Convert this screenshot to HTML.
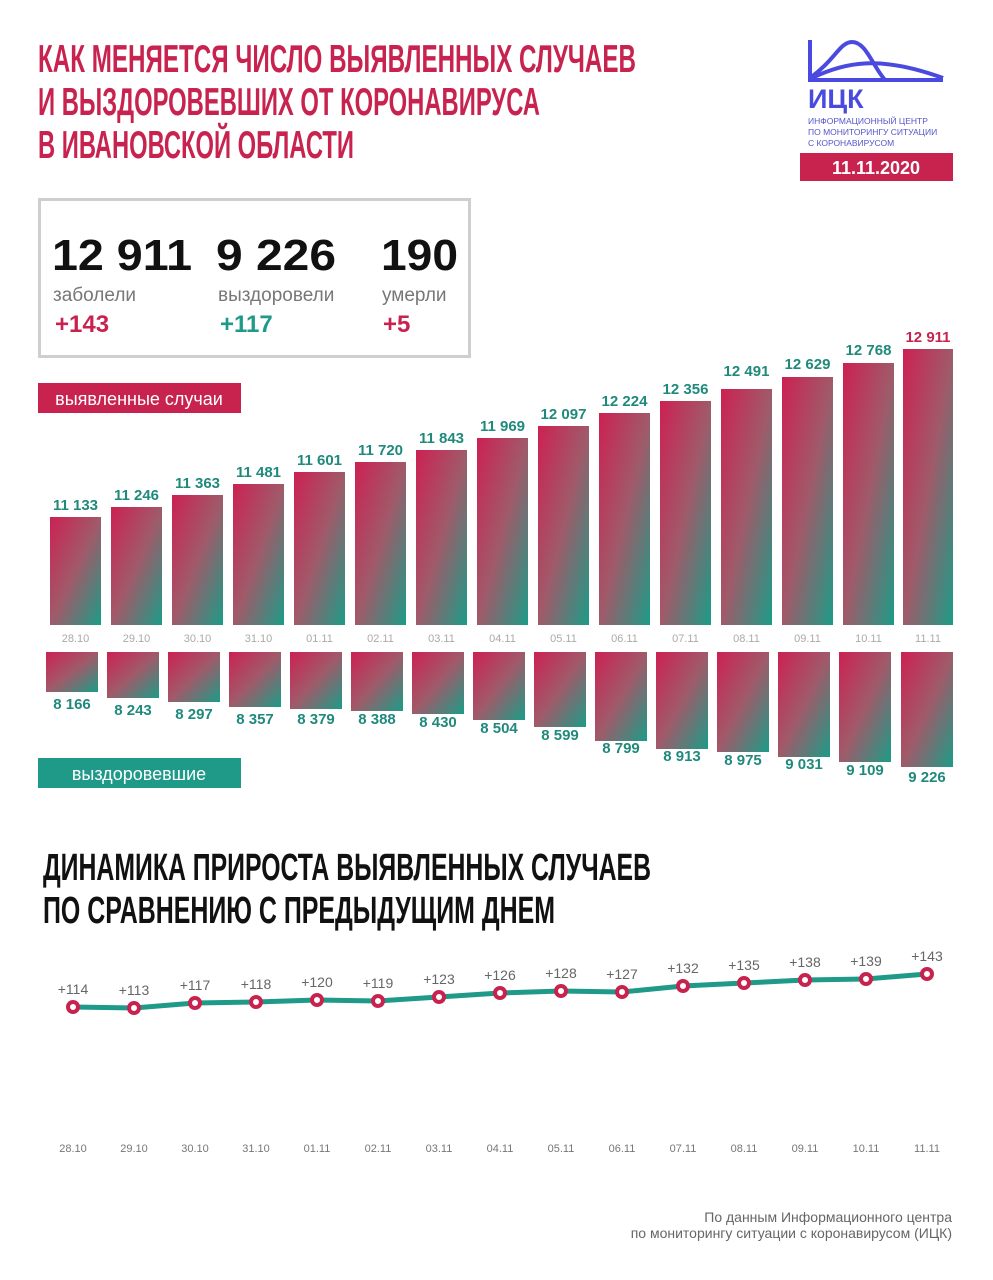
<!DOCTYPE html>
<html><head><meta charset="utf-8"><style>
body{margin:0;background:#fff;}
svg{display:block;font-family:"Liberation Sans",sans-serif;}
</style></head><body>
<svg width="993" height="1280" viewBox="0 0 993 1280" xmlns="http://www.w3.org/2000/svg">
<defs>
<linearGradient id="g" x1="0" y1="0" x2="1" y2="1">
<stop offset="0" stop-color="#cc2152"/><stop offset="0.5" stop-color="#a05a6a"/><stop offset="1" stop-color="#1b9c87"/>
</linearGradient>
</defs>
<rect width="993" height="1280" fill="#fff"/>
<g font-weight="bold" fill="#c8234f" font-size="39">
<text x="38" y="72" textLength="598" lengthAdjust="spacingAndGlyphs">КАК МЕНЯЕТСЯ ЧИСЛО ВЫЯВЛЕННЫХ СЛУЧАЕВ</text>
<text x="38" y="115" textLength="502" lengthAdjust="spacingAndGlyphs">И ВЫЗДОРОВЕВШИХ ОТ КОРОНАВИРУСА</text>
<text x="38" y="158" textLength="316" lengthAdjust="spacingAndGlyphs">В ИВАНОВСКОЙ ОБЛАСТИ</text>
</g>
<!-- logo -->
<g fill="none" stroke="#4a4ae0" stroke-width="4">
<path d="M810 40 V80 H943"/>
<path d="M810 78 C835 60 840 42 852 42 C866 42 872 65 885 80"/>
<path d="M812 78 C845 62 880 55 943 78"/>
</g>
<text x="808" y="108" font-size="27" font-weight="bold" fill="#4a4ae0">ИЦК</text>
<g font-size="8.5" fill="#5555cc">
<text x="808" y="124">ИНФОРМАЦИОННЫЙ ЦЕНТР</text>
<text x="808" y="135">ПО МОНИТОРИНГУ СИТУАЦИИ</text>
<text x="808" y="146">С КОРОНАВИРУСОМ</text>
</g>
<rect x="800" y="153" width="153" height="28" fill="#c8234f"/>
<text x="876" y="174" font-size="18" font-weight="bold" fill="#fff" text-anchor="middle">11.11.2020</text>
<!-- stats box -->
<rect x="39.5" y="199.5" width="430" height="157" fill="none" stroke="#cfcfcf" stroke-width="3"/>
<g font-size="44" font-weight="bold" fill="#111">
<text x="52" y="270" textLength="140" lengthAdjust="spacingAndGlyphs">12 911</text>
<text x="216" y="270" textLength="120" lengthAdjust="spacingAndGlyphs">9 226</text>
<text x="381" y="270" textLength="77" lengthAdjust="spacingAndGlyphs">190</text>
</g>
<g font-size="19" fill="#777">
<text x="53" y="301">заболели</text><text x="218" y="301">выздоровели</text><text x="382" y="301">умерли</text>
</g>
<g font-size="24" font-weight="bold">
<text x="55" y="332" fill="#c8234f">+143</text><text x="220" y="332" fill="#1f9a88">+117</text><text x="383" y="332" fill="#c8234f">+5</text>
</g>
<rect x="38" y="383" width="203" height="30" fill="#c8234f"/>
<text x="139" y="405" font-size="18" fill="#fff" text-anchor="middle">выявленные случаи</text>
<rect x="38" y="758" width="203" height="30" fill="#1f9a88"/>
<text x="139" y="780" font-size="18" fill="#fff" text-anchor="middle">выздоровевшие</text>
<g font-weight="bold" fill="#111" font-size="38">
<text x="43" y="880" textLength="608" lengthAdjust="spacingAndGlyphs">ДИНАМИКА ПРИРОСТА ВЫЯВЛЕННЫХ СЛУЧАЕВ</text>
<text x="43" y="923" textLength="512" lengthAdjust="spacingAndGlyphs">ПО СРАВНЕНИЮ С ПРЕДЫДУЩИМ ДНЕМ</text>
</g>
<g font-size="14" fill="#666" text-anchor="end">
<text x="952" y="1222">По данным Информационного центра</text>
<text x="952" y="1238">по мониторингу ситуации с коронавирусом (ИЦК)</text>
</g>
<g text-anchor="middle">
<rect x="50" y="517" width="51" height="108" fill="url(#g)"/><text x="75.5" y="510" font-size="15" font-weight="bold" fill="#1f8a7c">11 133</text><text x="75.5" y="642" font-size="11" fill="#aaa">28.10</text><rect x="46" y="652" width="52" height="40" fill="url(#g)"/><text x="72" y="709" font-size="15" font-weight="bold" fill="#1f8a7c">8 166</text>
<rect x="111" y="507" width="51" height="118" fill="url(#g)"/><text x="136.5" y="500" font-size="15" font-weight="bold" fill="#1f8a7c">11 246</text><text x="136.5" y="642" font-size="11" fill="#aaa">29.10</text><rect x="107" y="652" width="52" height="46" fill="url(#g)"/><text x="133" y="715" font-size="15" font-weight="bold" fill="#1f8a7c">8 243</text>
<rect x="172" y="495" width="51" height="130" fill="url(#g)"/><text x="197.5" y="488" font-size="15" font-weight="bold" fill="#1f8a7c">11 363</text><text x="197.5" y="642" font-size="11" fill="#aaa">30.10</text><rect x="168" y="652" width="52" height="50" fill="url(#g)"/><text x="194" y="719" font-size="15" font-weight="bold" fill="#1f8a7c">8 297</text>
<rect x="233" y="484" width="51" height="141" fill="url(#g)"/><text x="258.5" y="477" font-size="15" font-weight="bold" fill="#1f8a7c">11 481</text><text x="258.5" y="642" font-size="11" fill="#aaa">31.10</text><rect x="229" y="652" width="52" height="55" fill="url(#g)"/><text x="255" y="724" font-size="15" font-weight="bold" fill="#1f8a7c">8 357</text>
<rect x="294" y="472" width="51" height="153" fill="url(#g)"/><text x="319.5" y="465" font-size="15" font-weight="bold" fill="#1f8a7c">11 601</text><text x="319.5" y="642" font-size="11" fill="#aaa">01.11</text><rect x="290" y="652" width="52" height="57" fill="url(#g)"/><text x="316" y="724" font-size="15" font-weight="bold" fill="#1f8a7c">8 379</text>
<rect x="355" y="462" width="51" height="163" fill="url(#g)"/><text x="380.5" y="455" font-size="15" font-weight="bold" fill="#1f8a7c">11 720</text><text x="380.5" y="642" font-size="11" fill="#aaa">02.11</text><rect x="351" y="652" width="52" height="59" fill="url(#g)"/><text x="377" y="724" font-size="15" font-weight="bold" fill="#1f8a7c">8 388</text>
<rect x="416" y="450" width="51" height="175" fill="url(#g)"/><text x="441.5" y="443" font-size="15" font-weight="bold" fill="#1f8a7c">11 843</text><text x="441.5" y="642" font-size="11" fill="#aaa">03.11</text><rect x="412" y="652" width="52" height="62" fill="url(#g)"/><text x="438" y="727" font-size="15" font-weight="bold" fill="#1f8a7c">8 430</text>
<rect x="477" y="438" width="51" height="187" fill="url(#g)"/><text x="502.5" y="431" font-size="15" font-weight="bold" fill="#1f8a7c">11 969</text><text x="502.5" y="642" font-size="11" fill="#aaa">04.11</text><rect x="473" y="652" width="52" height="68" fill="url(#g)"/><text x="499" y="733" font-size="15" font-weight="bold" fill="#1f8a7c">8 504</text>
<rect x="538" y="426" width="51" height="199" fill="url(#g)"/><text x="563.5" y="419" font-size="15" font-weight="bold" fill="#1f8a7c">12 097</text><text x="563.5" y="642" font-size="11" fill="#aaa">05.11</text><rect x="534" y="652" width="52" height="75" fill="url(#g)"/><text x="560" y="740" font-size="15" font-weight="bold" fill="#1f8a7c">8 599</text>
<rect x="599" y="413" width="51" height="212" fill="url(#g)"/><text x="624.5" y="406" font-size="15" font-weight="bold" fill="#1f8a7c">12 224</text><text x="624.5" y="642" font-size="11" fill="#aaa">06.11</text><rect x="595" y="652" width="52" height="89" fill="url(#g)"/><text x="621" y="753" font-size="15" font-weight="bold" fill="#1f8a7c">8 799</text>
<rect x="660" y="401" width="51" height="224" fill="url(#g)"/><text x="685.5" y="394" font-size="15" font-weight="bold" fill="#1f8a7c">12 356</text><text x="685.5" y="642" font-size="11" fill="#aaa">07.11</text><rect x="656" y="652" width="52" height="97" fill="url(#g)"/><text x="682" y="761" font-size="15" font-weight="bold" fill="#1f8a7c">8 913</text>
<rect x="721" y="389" width="51" height="236" fill="url(#g)"/><text x="746.5" y="376" font-size="15" font-weight="bold" fill="#1f8a7c">12 491</text><text x="746.5" y="642" font-size="11" fill="#aaa">08.11</text><rect x="717" y="652" width="52" height="100" fill="url(#g)"/><text x="743" y="765" font-size="15" font-weight="bold" fill="#1f8a7c">8 975</text>
<rect x="782" y="377" width="51" height="248" fill="url(#g)"/><text x="807.5" y="369" font-size="15" font-weight="bold" fill="#1f8a7c">12 629</text><text x="807.5" y="642" font-size="11" fill="#aaa">09.11</text><rect x="778" y="652" width="52" height="105" fill="url(#g)"/><text x="804" y="769" font-size="15" font-weight="bold" fill="#1f8a7c">9 031</text>
<rect x="843" y="363" width="51" height="262" fill="url(#g)"/><text x="868.5" y="355" font-size="15" font-weight="bold" fill="#1f8a7c">12 768</text><text x="868.5" y="642" font-size="11" fill="#aaa">10.11</text><rect x="839" y="652" width="52" height="110" fill="url(#g)"/><text x="865" y="775" font-size="15" font-weight="bold" fill="#1f8a7c">9 109</text>
<rect x="903" y="349" width="50" height="276" fill="url(#g)"/><text x="928" y="342" font-size="15" font-weight="bold" fill="#c8234f">12 911</text><text x="928" y="642" font-size="11" fill="#aaa">11.11</text><rect x="901" y="652" width="52" height="115" fill="url(#g)"/><text x="927" y="782" font-size="15" font-weight="bold" fill="#1f8a7c">9 226</text>
</g>
<polyline fill="none" stroke="#1f9a88" stroke-width="5" points="73,1007 134,1008 195,1003 256,1002 317,1000 378,1001 439,997 500,993 561,991 622,992 683,986 744,983 805,980 866,979 927,974"/>
<g fill="#fff" stroke="#c8234f" stroke-width="4">
<circle cx="73" cy="1007" r="5"/><circle cx="134" cy="1008" r="5"/><circle cx="195" cy="1003" r="5"/><circle cx="256" cy="1002" r="5"/><circle cx="317" cy="1000" r="5"/><circle cx="378" cy="1001" r="5"/><circle cx="439" cy="997" r="5"/><circle cx="500" cy="993" r="5"/><circle cx="561" cy="991" r="5"/><circle cx="622" cy="992" r="5"/><circle cx="683" cy="986" r="5"/><circle cx="744" cy="983" r="5"/><circle cx="805" cy="980" r="5"/><circle cx="866" cy="979" r="5"/><circle cx="927" cy="974" r="5"/>
</g>
<g font-size="14" fill="#666" text-anchor="middle">
<text x="73" y="994">+114</text><text x="134" y="995">+113</text><text x="195" y="990">+117</text><text x="256" y="989">+118</text><text x="317" y="987">+120</text><text x="378" y="988">+119</text><text x="439" y="984">+123</text><text x="500" y="980">+126</text><text x="561" y="978">+128</text><text x="622" y="979">+127</text><text x="683" y="973">+132</text><text x="744" y="970">+135</text><text x="805" y="967">+138</text><text x="866" y="966">+139</text><text x="927" y="961">+143</text>
</g>
<g font-size="11" fill="#777" text-anchor="middle">
<text x="73" y="1152">28.10</text><text x="134" y="1152">29.10</text><text x="195" y="1152">30.10</text><text x="256" y="1152">31.10</text><text x="317" y="1152">01.11</text><text x="378" y="1152">02.11</text><text x="439" y="1152">03.11</text><text x="500" y="1152">04.11</text><text x="561" y="1152">05.11</text><text x="622" y="1152">06.11</text><text x="683" y="1152">07.11</text><text x="744" y="1152">08.11</text><text x="805" y="1152">09.11</text><text x="866" y="1152">10.11</text><text x="927" y="1152">11.11</text>
</g>
</svg>
</body></html>
